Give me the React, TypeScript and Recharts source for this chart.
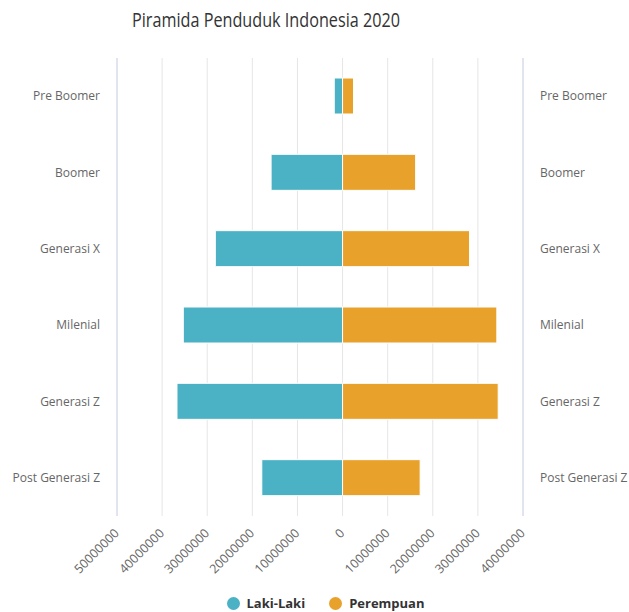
import { BarChart, Bar, XAxis, YAxis, CartesianGrid, Legend } from 'recharts';

const categories = ['Pre Boomer', 'Boomer', 'Generasi X', 'Milenial', 'Generasi Z', 'Post Generasi Z'];
const lakiLaki = [-1840000, -15840000, -28200000, -35300000, -36700000, -17900000];
const perempuan = [2430000, 16200000, 28150000, 34200000, 34500000, 17200000];
const xTicks = [-50000000, -40000000, -30000000, -20000000, -10000000, 0, 10000000, 20000000, 30000000, 40000000];

const MALE = '#4bb1c4';
const FEMALE = '#e8a22b';
const FONT = '"Open Sans", "DejaVu Sans", sans-serif';

const data = categories.map((name, i) => ({
  name,
  laki: lakiLaki[i],
  perempuan: perempuan[i],
}));

function RotatedTick(props: any) {
  const { x, y, payload } = props;
  return (
    <g transform={`translate(${x},${y + 7})`}>
      <text
        x={0}
        y={0}
        dy={4}
        textAnchor="end"
        transform="rotate(-45)"
        fill="#666"
        fontSize={12.5}
        fontFamily={FONT}
      >
        {Math.abs(payload.value)}
      </text>
    </g>
  );
}

function LegendContent() {
  const items = [
    { label: 'Laki-Laki', color: MALE },
    { label: 'Perempuan', color: FEMALE },
  ];
  return (
    <div style={{ display: 'flex', justifyContent: 'center', gap: 24, fontFamily: FONT, paddingLeft: 22 }}>
      {items.map(it => (
        <div key={it.label} style={{ display: 'flex', alignItems: 'center' }}>
          <span
            style={{
              display: 'inline-block',
              width: 13,
              height: 13,
              borderRadius: 7,
              background: it.color,
              marginRight: 7,
            }}
          />
          <span style={{ fontSize: 13, fontWeight: 700, color: '#333' }}>{it.label}</span>
        </div>
      ))}
    </div>
  );
}

export default function App() {
  return (
    <div style={{ position: 'absolute', left: 0, top: 0, width: 629, height: 612, background: '#fff' }}>
      <svg width={629} height={40} style={{ position: 'absolute', left: 0, top: 0 }}>
        <text
          x={266}
          y={27}
          textAnchor="middle"
          textLength={268}
          lengthAdjust="spacingAndGlyphs"
          fontFamily={FONT}
          fontSize={20}
          fill="#333"
        >
          Piramida Penduduk Indonesia 2020
        </text>
      </svg>
      <BarChart
        width={629}
        height={612}
        data={data}
        layout="vertical"
        barSize={36}
        stackOffset="sign"
        margin={{ top: 58, right: 0, bottom: 0, left: 0 }}
      >
        <CartesianGrid horizontal={false} stroke="#e6e6e6" />
        <XAxis
          type="number"
          domain={[-50000000, 40000000]}
          ticks={xTicks}
          axisLine={false}
          tickLine={false}
          height={72}
          interval={0}
          tick={<RotatedTick />}
        />
        <YAxis
          yAxisId="left"
          type="category"
          dataKey="name"
          width={117}
          axisLine={{ stroke: '#ccd6eb' }}
          tickLine={false}
          tickSize={0}
          tickMargin={17}
          tick={{ fill: '#666', fontSize: 12, fontFamily: FONT }}
        />
        <YAxis
          yAxisId="right"
          orientation="right"
          type="category"
          dataKey="name"
          width={106}
          axisLine={{ stroke: '#ccd6eb' }}
          tickLine={false}
          tickSize={0}
          tickMargin={17}
          tick={{ fill: '#666', fontSize: 12, fontFamily: FONT }}
        />
        <Legend
          verticalAlign="bottom"
          height={24}
          content={<LegendContent />}
          wrapperStyle={{ left: 0, width: 629, top: 594 }}
        />
        <Bar
          yAxisId="left"
          dataKey="laki"
          name="Laki-Laki"
          stackId="pop"
          fill={MALE}
          stroke="#fff"
          strokeWidth={1}
          isAnimationActive={false}
        />
        <Bar
          yAxisId="left"
          dataKey="perempuan"
          name="Perempuan"
          stackId="pop"
          fill={FEMALE}
          stroke="#fff"
          strokeWidth={1}
          isAnimationActive={false}
        />
      </BarChart>
    </div>
  );
}
